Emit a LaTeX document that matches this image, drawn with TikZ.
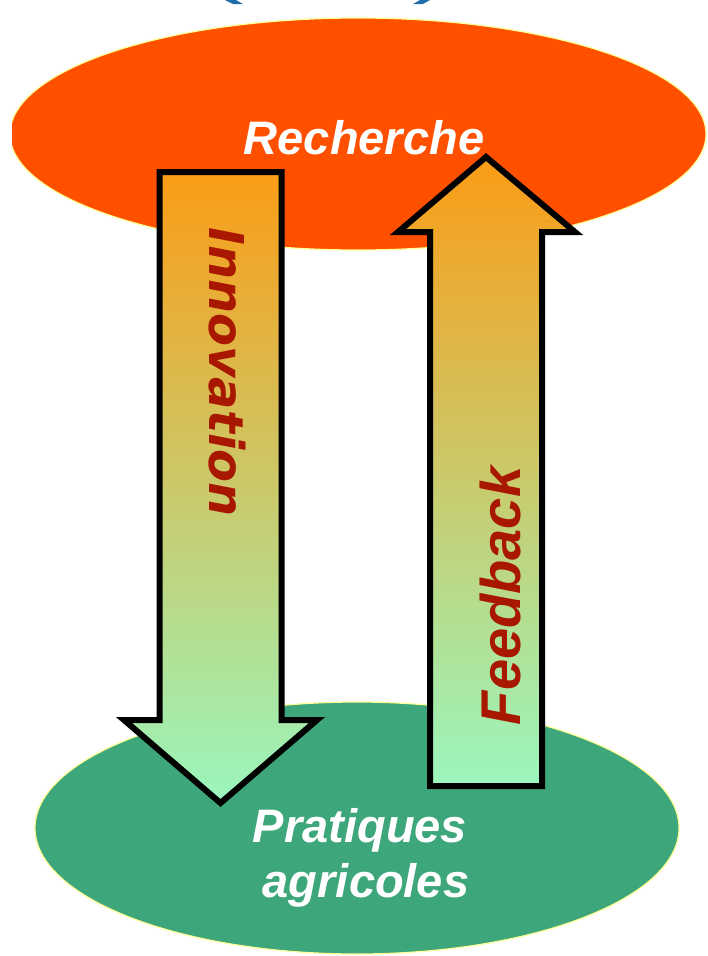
\documentclass[tikz,border=0pt]{standalone}
\usepackage{fontspec}
\usetikzlibrary{shapes.geometric}
\newfontfamily\helvfont{Liberation Sans}
\newfontfamily\verdfont{DejaVu Sans}
\definecolor{rechred}{RGB}{255,80,0}
\definecolor{pratgreen}{RGB}{61,166,122}
\definecolor{rimyellow}{RGB}{255,255,150}
\definecolor{arrowtop}{RGB}{251,156,22}
\definecolor{arrowbot}{RGB}{154,246,190}
\definecolor{labelred}{RGB}{168,24,0}
\definecolor{parenblue}{RGB}{30,110,170}

\begin{document}
\begin{tikzpicture}[x=1pt,y=-1pt,
  blob/.style={ellipse, inner sep=0pt, draw=rimyellow, line width=1.2pt},
  bigarrow/.style={draw=black, line width=6pt, top color=arrowtop, bottom color=arrowbot},
  whitelabel/.style={text=white, font=\helvfont\bfseries\itshape\fontsize{47}{56}\selectfont, inner sep=0pt}]
\useasboundingbox (0,0) rectangle (708,956);
\clip (0,0) rectangle (708,956);

% bits of the title left above
\fill[parenblue] (225,0) -- (236,0) -- (243,4) -- (233,4) -- cycle;
\fill[parenblue] (420,0) -- (430,0) -- (423,4) -- (413,4) -- cycle;

\begin{scope}
\clip (12,0) rectangle (708,956);
\node[blob, fill=rechred, minimum width=696pt, minimum height=232pt] (recherche) at (358,134) {};
\end{scope}
\node[blob, fill=pratgreen, minimum width=644pt, minimum height=252pt] (pratiques) at (357,828) {};

% Innovation (down)
\def\dl{159.5}
\def\dr{281.5}
\draw[bigarrow] (\dl,172) -- (\dr,172) -- (\dr,720) -- (317,720) -- (220.5,803) -- (124,720) -- (\dl,720) -- cycle;
% Feedback (up)
\def\ul{430}
\def\ur{542}
\draw[bigarrow] (\ul,786) -- (\ur,786) -- (\ur,232) -- (575,232) -- (486,157) -- (398,232) -- (\ul,232) -- cycle;

\node[whitelabel, anchor=base] (rechlabel) at (364,154) {Recherche};
\node[whitelabel, anchor=base] (pratlabel) at (360,842) {Pratiques};
\node[whitelabel, anchor=base] (agrilabel) at (366,897) {agricoles};

\node[rotate=-90, anchor=base, inner sep=0pt, text=labelred, font=\verdfont\bfseries\itshape\fontsize{48}{56}\selectfont] (innolabel) at (209,372) {Innovation};
\node[rotate=90, anchor=base, inner sep=0pt, text=labelred, font=\helvfont\bfseries\itshape\fontsize{56}{64}\selectfont] (feedlabel) at (520,596) {Feedback};

\end{tikzpicture}
\end{document}
